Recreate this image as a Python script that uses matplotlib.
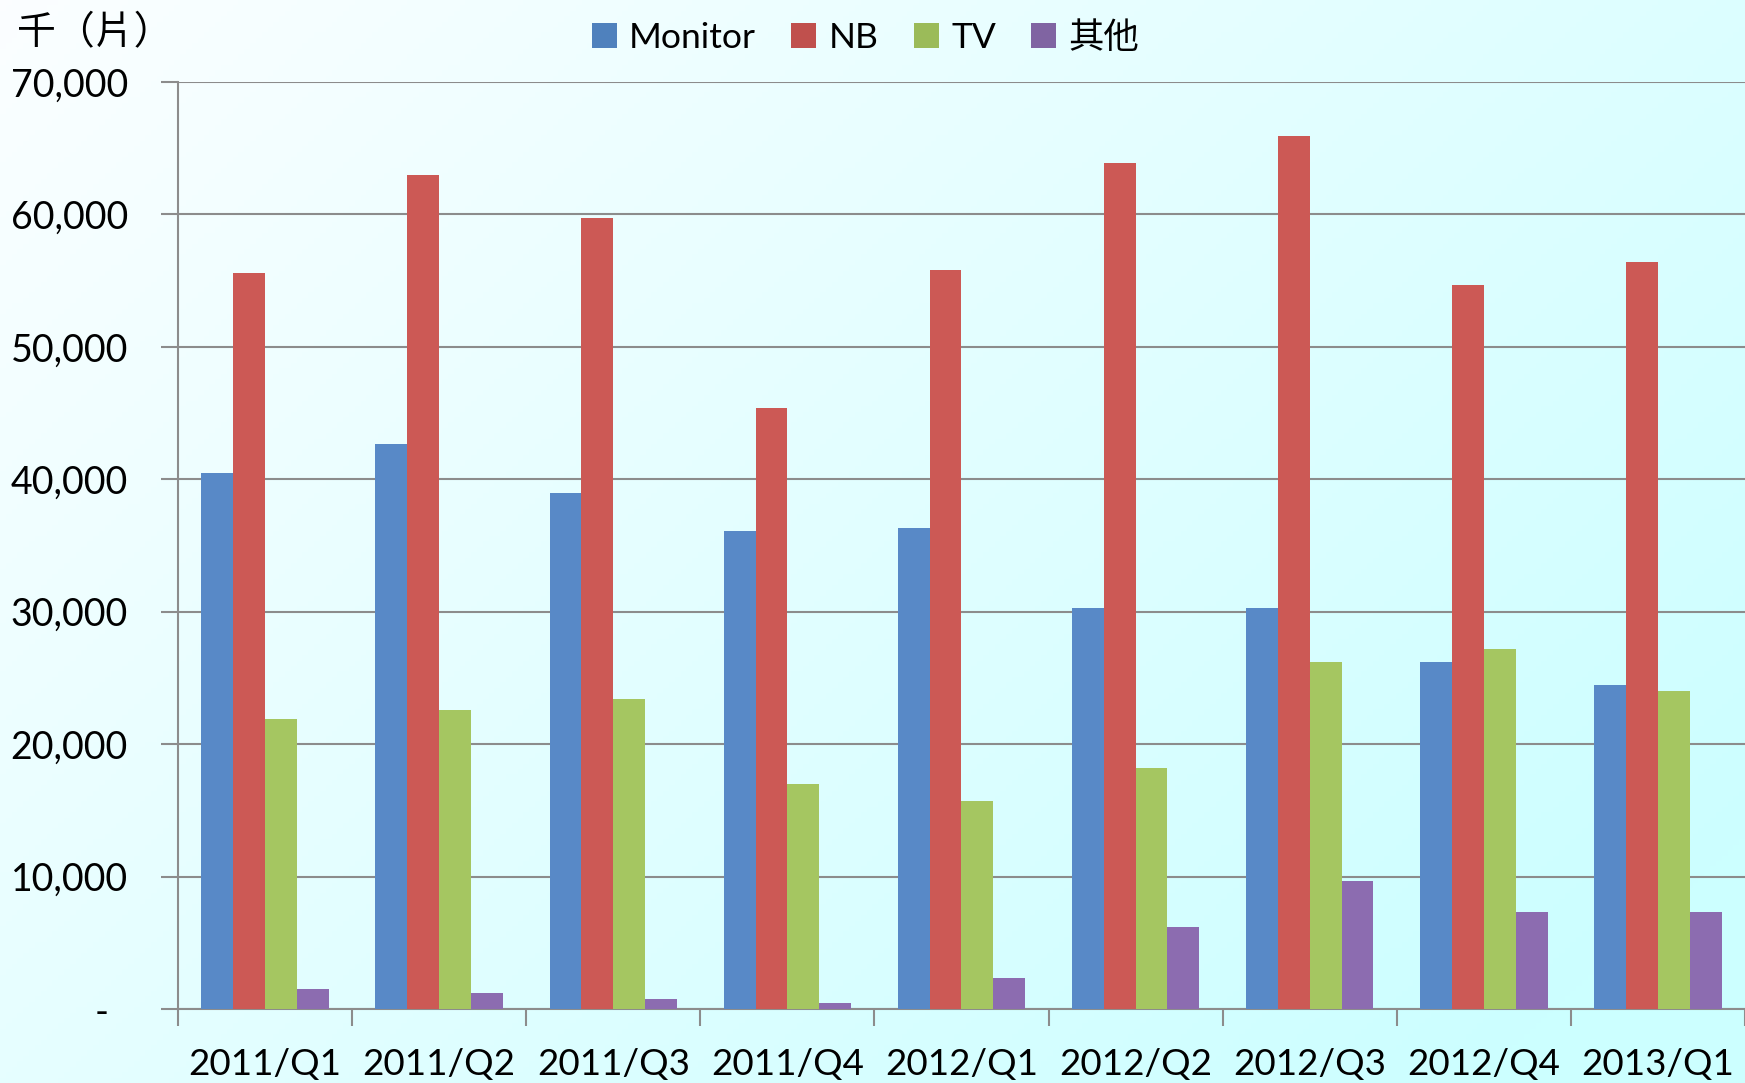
import numpy as np
import matplotlib
matplotlib.use("Agg")
import matplotlib.pyplot as plt
from matplotlib.patches import Patch
from matplotlib.ticker import FuncFormatter, MultipleLocator

plt.rcParams["font.family"] = ["Lato", "Noto Sans CJK TC", "DejaVu Sans"]

quarters = ["2011/Q1", "2011/Q2", "2011/Q3", "2011/Q4", "2012/Q1",
            "2012/Q2", "2012/Q3", "2012/Q4", "2013/Q1"]
series_names = ["Monitor", "NB", "TV", "其他"]
monitor = [40500, 42700, 39000, 36100, 36300, 30250, 30250, 26200, 24500]
nb = [55600, 63000, 59750, 45400, 55800, 63900, 65900, 54700, 56400]
tv = [21900, 22600, 23400, 17000, 15700, 18200, 26200, 27200, 24000]
other = [1500, 1200, 750, 450, 2350, 6200, 9650, 7300, 7350]

bar_colors = ["#5889c7", "#cc5955", "#a5c661", "#8c6cb0"]
legend_colors = ["#4f81bd", "#c0504d", "#9bbb59", "#8064a2"]

fig = plt.figure(figsize=(17.45, 10.83), dpi=100)

# light diagonal gradient behind everything
bg = fig.add_axes([0, 0, 1, 1], zorder=-10)
gx, gy = np.meshgrid(np.linspace(0, 1, 300), np.linspace(0, 1, 200))
g = np.clip(0.65 * gx + 0.45 * gy, 0, 1)[..., None]
c0 = np.array([0.985, 0.996, 1.0])
c1 = np.array([0.80, 1.0, 1.0])
bg.imshow(c0 * (1 - g) + c1 * g, aspect="auto", extent=(0, 1, 0, 1), origin="upper")
bg.axis("off")

ax = fig.add_axes([0.102, 0.0683, 0.898, 0.856])
ax.set_facecolor("none")

x = np.arange(len(quarters))
w = 0.183
for i, vals in enumerate([monitor, nb, tv, other]):
    ax.bar(x + (i - 1.5) * w, vals, width=w, color=bar_colors[i], linewidth=0, zorder=3)

ax.set_xlim(-0.5, len(quarters) - 0.5)
ax.set_ylim(0, 70000)
ax.yaxis.set_major_locator(MultipleLocator(10000))
ax.yaxis.set_major_formatter(FuncFormatter(lambda v, p: "-  " if v == 0 else f"{v:,.0f}"))
ax.grid(axis="y", color="#8c8c8c", lw=1.5, zorder=1)

ax.set_xticks(np.arange(len(quarters) + 1) - 0.5)
ax.set_xticklabels([])
ax.set_xticks(x, minor=True)
ax.set_xticklabels(quarters, minor=True, fontsize=26.5)
ax.tick_params(axis="x", which="major", length=12, width=1.5, color="#8c8c8c")
ax.tick_params(axis="x", which="minor", length=0, pad=28)
ax.tick_params(axis="y", length=12, width=1.5, color="#8c8c8c", labelsize=27, pad=24)

for side in ["top", "right"]:
    ax.spines[side].set_visible(False)
for side in ["left", "bottom"]:
    ax.spines[side].set_color("#8c8c8c")
    ax.spines[side].set_linewidth(1.5)

fig.text(0.010, 0.969, "千（片）", fontsize=28, va="center", ha="left",
         family=["Noto Sans CJK TC"])

handles = [Patch(facecolor=c, edgecolor="none") for c in legend_colors]
fig.legend(handles, series_names, loc="center", bbox_to_anchor=(0.496, 0.965), ncol=4,
           frameon=False, fontsize=25.5, handlelength=0.7, handleheight=0.7,
           handletextpad=0.35, columnspacing=1.0)

fig.savefig("out.png", dpi=100)
